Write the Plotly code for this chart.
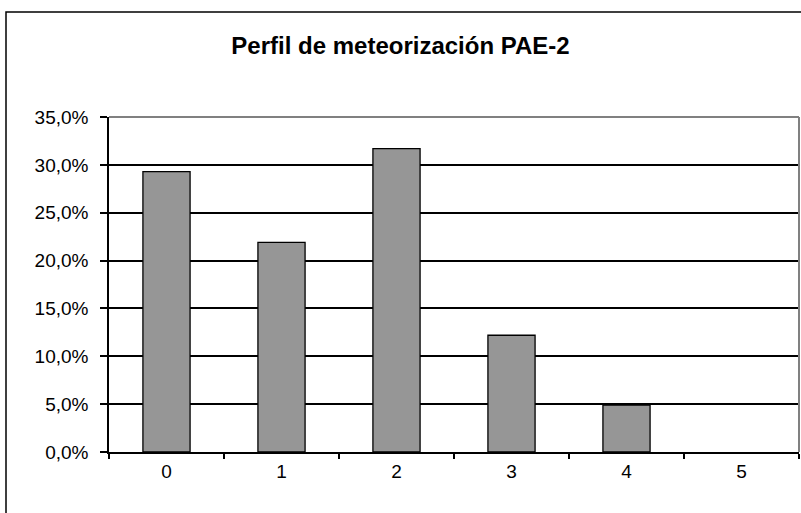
import plotly.graph_objects as go

categories = ["0", "1", "2", "3", "4", "5"]
values = [0.293, 0.219, 0.317, 0.122, 0.049, 0.0]
y_ticks = [0, 0.05, 0.10, 0.15, 0.20, 0.25, 0.30, 0.35]
title_text = "Perfil de meteorización PAE-2"

W, H = 801, 513
L, R, T, B = 109, 2, 117, 61

fig = go.Figure()
fig.add_trace(go.Bar(
    x=categories, y=values,
    marker=dict(color="#969696",
                line=dict(color="#000000",
                          width=[1.3 if v > 0 else 0 for v in values])),
    width=0.41,
))

font = dict(family="Liberation Sans, Arial, sans-serif", color="#000000")

fig.update_layout(
    width=W, height=H,
    margin=dict(l=L, r=R, t=T, b=B, pad=0),
    paper_bgcolor="#ffffff", plot_bgcolor="#ffffff",
    separators=",.",
    showlegend=False,
    title=dict(text=title_text, x=0.5, xanchor="center", xref="container",
               y=1 - 46 / H, yanchor="middle", yref="container",
               font=dict(size=24, weight="bold", **font)),
    xaxis=dict(type="category", range=[-0.5, 5.5], showgrid=False,
               showline=True, linecolor="#000000", linewidth=1.5,
               ticks="outside", tickson="boundaries", ticklen=5, tickwidth=1.5,
               tickcolor="#000000", tickfont=dict(size=19, **font),
               ticklabelstandoff=1, zeroline=False),
    yaxis=dict(range=[0, 0.35], tickvals=y_ticks, tickformat=".1%",
               showgrid=True, gridcolor="#000000", gridwidth=1.5,
               showline=True, linecolor="#000000", linewidth=1.5,
               ticks="outside", ticklen=7, tickwidth=1.5, tickcolor="#000000",
               tickfont=dict(size=19, **font), ticklabelstandoff=8,
               zeroline=False),
)

pw = W - L - R
ph = H - T - B
# plot-area top and right borders (grey)
fig.add_shape(type="line", xref="paper", yref="paper", x0=0, x1=1, y0=1, y1=1,
              line=dict(color="#808080", width=2), layer="above")
fig.add_shape(type="line", xref="paper", yref="paper", x0=1, x1=1, y0=0, y1=1,
              line=dict(color="#808080", width=2), layer="above")
# outer chart border
fig.add_shape(type="rect", xref="paper", yref="paper",
              x0=(6 - L) / pw, x1=(W + 20 - L) / pw,
              y0=(H - B - (H + 20)) / ph, y1=(H - B - 12) / ph,
              line=dict(color="#000000", width=1.5), fillcolor="rgba(0,0,0,0)",
              layer="below")

fig.write_html("out.html", config={"displayModeBar": False},
               post_script="document.body.style.margin='0';document.body.style.overflow='hidden';")
